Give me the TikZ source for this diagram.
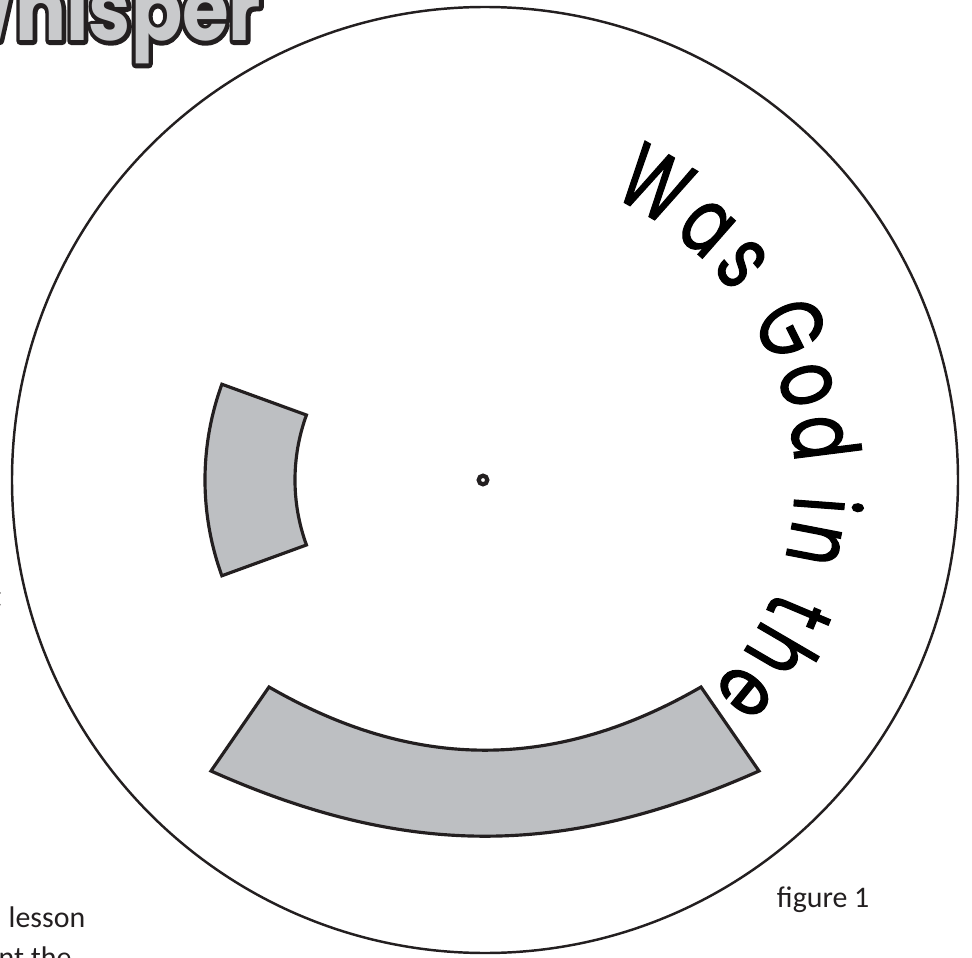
\documentclass[tikz,border=0pt]{standalone}
\usepackage{fontspec}
\setmainfont{Carlito}
\newfontfamily\poppinsnarrow{Poppins}[FakeStretch=0.72, FakeBold=1.2]
\newfontfamily\bubblefamily{Poppins}[FakeStretch=0.86]
\usetikzlibrary{decorations.text}

\definecolor{windowgray}{HTML}{BDBFC2}
\definecolor{titlegray}{HTML}{C9CACC}
\definecolor{inkblack}{HTML}{231F20}

\newcommand\wheelfont{\poppinsnarrow\fontsize{26}{28}\selectfont}
\newcommand\bubblefont{\bubblefamily\bfseries\fontsize{25}{28}\selectfont}
% stroke-only text for the outline of the title
\newcommand\outlinetext[1]{\special{pdf:literal direct 1 Tr 2.3 w 1 j}#1\special{pdf:literal direct 0 Tr}}

\begin{document}
\begin{tikzpicture}[x=0.1mm, y=0.1mm,
  wheel/.style={draw=inkblack, line width=0.7pt},
  window/.style={draw=inkblack, fill=windowgray, line width=0.9pt},
  note/.style={inner sep=0pt, font=\fontsize{8.5}{10}\selectfont, text=inkblack},
  title/.style={inner sep=0pt, font=\bubblefont}
]
\useasboundingbox (-485,-477) rectangle (487,480);
\clip (-485,-477) rectangle (487,480);

% the disc and its hole
\coordinate (hub) at (-2,0);
\draw[wheel] (0,0) circle[radius=473];
\draw[inkblack, line width=1.2pt] (hub) circle[radius=4.3];

% left window
\draw[window] (160:280) arc[start angle=160, end angle=200, radius=280]
  -- (200:190) arc[start angle=200, end angle=160, radius=190] -- cycle;

% bottom window
\coordinate (wbl) at (-274,-291);
\coordinate (wtl) at (-216,-207);
\coordinate (wtr) at (216,-207);
\coordinate (wbr) at (274,-291);
\draw[window] (wbl) -- (wtl) to[bend right=30] (wtr) -- (wbr) to[bend left=24] (wbl) -- cycle;

% words round the rim
\path[decorate, decoration={text along path, text={|\wheelfont|Was God in the},
  text align=fit to path}] (66:310) arc[start angle=66, end angle=-43, radius=310];

% title, cut off by the page
\node[title, anchor=base east, text=inkblack] (titleline) at (-223,439) {\outlinetext{Whisper}};
\node[title, anchor=base east, text=titlegray] (title) at (-223,439) {Whisper};

% bits of the page text
\node[note, anchor=base east] (edgemark) at (-483,-126) {t};
\node[note, anchor=base west] (lesson) at (-477,-447) {lesson};
\node[note, anchor=base west] (lessonnext) at (-487,-487) {nt the};
\node[note, anchor=base east] (caption) at (385,-427) {figure 1};

\end{tikzpicture}
\end{document}
